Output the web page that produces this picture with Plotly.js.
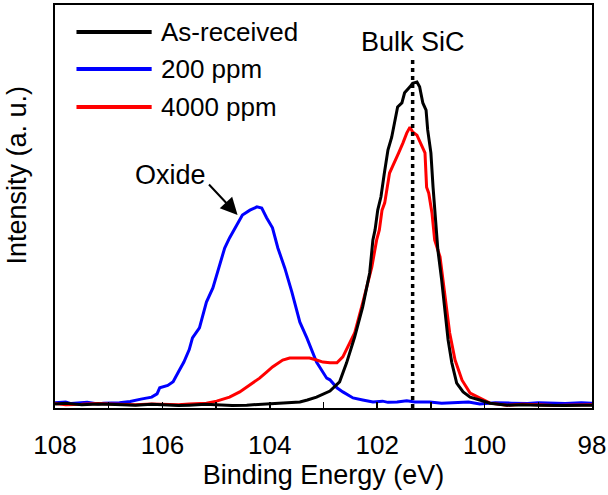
<!DOCTYPE html>
<html>
<head>
<meta charset="utf-8">
<script src="https://cdn.plot.ly/plotly-3.0.1.min.js"></script>
<style>html,body{margin:0;padding:0;background:#fff;}#chart{width:608px;height:495px;}</style>
</head>
<body>
<div id="chart"></div>
<script>
// Binding energy (eV) and intensity (arbitrary units)
const seriesNames = ["As-received", "200 ppm", "4000 ppm"];
const seriesColors = ["#000000", "#0000ff", "#ff0000"];

const asReceivedE = [108.0, 107.8, 107.5, 107.2, 107.0, 106.7, 106.5, 106.2, 106.0, 105.7, 105.5, 105.2, 105.0, 104.7, 104.43, 104.2, 104.0, 103.7, 103.44, 103.3, 103.13, 102.88, 102.70, 102.57, 102.42, 102.27, 102.14, 102.08, 102.04, 101.99, 101.93, 101.87, 101.80, 101.73, 101.67, 101.62, 101.54, 101.49, 101.39, 101.34, 101.26, 101.21, 101.15, 101.09, 101.06, 101.00, 100.96, 100.91, 100.89, 100.87, 100.80, 100.74, 100.68, 100.61, 100.52, 100.40, 100.27, 100.09, 99.90, 99.58, 99.3, 99.0, 98.7, 98.5, 98.2, 98.0];
const asReceivedI = [1.0, 1.2, 0.8, 1.0, 0.9, 0.7, 0.7, 0.9, 0.8, 0.6, 0.7, 0.9, 0.8, 0.6, 0.7, 0.9, 1.0, 1.2, 1.5, 2.0, 2.7, 4.2, 6.5, 11.2, 17.6, 25.1, 33.5, 41.7, 44.2, 49.1, 52.4, 58.0, 64.0, 67.2, 71.5, 74.7, 75.7, 78.2, 79.7, 80.6, 80.9, 79.7, 75.7, 73.9, 69.0, 63.3, 54.8, 46.7, 42.0, 39.2, 31.8, 23.6, 16.9, 11.2, 6.2, 4.0, 2.7, 2.0, 1.2, 0.7, 0.8, 0.7, 0.6, 0.6, 0.7, 0.7];

const ppm200E = [108.0, 107.8, 107.7, 107.4, 107.2, 107.1, 106.8, 106.6, 106.4, 106.2, 106.1, 106.05, 105.9, 105.8, 105.7, 105.6, 105.5, 105.44, 105.31, 105.18, 105.06, 104.93, 104.84, 104.75, 104.62, 104.51, 104.37, 104.24, 104.15, 104.06, 103.95, 103.85, 103.72, 103.59, 103.44, 103.31, 103.13, 102.94, 102.88, 102.75, 102.64, 102.45, 102.27, 102.08, 101.9, 101.8, 101.63, 101.45, 101.3, 101.02, 100.8, 100.6, 100.3, 100.09, 99.8, 99.5, 99.2, 99.0, 98.7, 98.5, 98.2, 98.0];
const ppm200I = [1.3, 1.5, 1.1, 1.4, 1.0, 1.2, 1.3, 1.6, 2.2, 2.7, 3.5, 5.0, 5.6, 6.5, 9.0, 11.4, 14.5, 17.4, 19.9, 26.3, 29.8, 35.5, 39.7, 42.2, 45.4, 47.9, 49.1, 49.9, 49.6, 47.2, 44.7, 39.7, 34.7, 28.8, 21.3, 17.4, 11.4, 7.4, 7.0, 5.0, 4.0, 2.5, 2.0, 1.5, 1.7, 1.4, 1.5, 1.8, 1.5, 1.5, 1.2, 1.3, 1.5, 1.0, 1.3, 1.2, 1.1, 1.3, 1.2, 1.1, 1.3, 1.2];

const ppm4000E = [108.0, 107.8, 107.5, 107.2, 107.0, 106.7, 106.5, 106.2, 106.0, 105.7, 105.5, 105.18, 104.99, 104.75, 104.56, 104.37, 104.19, 104.06, 103.95, 103.76, 103.63, 103.44, 103.26, 103.13, 103.01, 102.88, 102.75, 102.64, 102.51, 102.42, 102.27, 102.10, 102.01, 101.96, 101.91, 101.86, 101.77, 101.67, 101.60, 101.52, 101.45, 101.39, 101.34, 101.26, 101.17, 101.11, 101.08, 101.04, 100.98, 100.93, 100.83, 100.74, 100.65, 100.55, 100.42, 100.27, 100.09, 99.90, 99.58, 99.3, 99.0, 98.7, 98.5, 98.2, 98.0];
const ppm4000I = [1.1, 0.8, 0.9, 1.1, 1.0, 0.8, 0.8, 1.0, 0.9, 0.8, 1.0, 1.2, 1.7, 2.7, 4.0, 5.7, 7.4, 8.9, 10.2, 11.9, 12.4, 12.4, 12.4, 11.9, 11.4, 11.2, 11.2, 12.7, 16.1, 18.6, 26.1, 35.0, 41.7, 44.2, 49.1, 50.9, 58.3, 61.5, 63.3, 65.8, 68.2, 69.7, 68.5, 67.7, 65.3, 63.3, 54.8, 53.3, 48.4, 41.7, 37.5, 28.5, 18.6, 11.9, 6.9, 3.7, 2.5, 1.2, 0.7, 0.9, 0.8, 0.6, 0.7, 0.8, 0.8];

const xTickVals = [108, 107, 106, 105, 104, 103, 102, 101, 100, 99, 98];
const xTickText = ["108", "", "106", "", "104", "", "102", "", "100", "", "98"];

const bulkSiCEnergy = 101.34;
const bulkSiCLineTop = 87.1;
const oxidePeak = {E: 104.60, I: 47.9};

const FONT = "Liberation Sans, Arial, sans-serif";

const xs = [asReceivedE, ppm200E, ppm4000E];
const ys = [asReceivedI, ppm200I, ppm4000I];
const order = [1, 2, 0];
const traces = order.map(i => ({
  type: "scatter", mode: "lines", name: seriesNames[i],
  x: xs[i], y: ys[i],
  line: {color: seriesColors[i], width: 3},
  showlegend: false
}));

// manual legend (long line samples as in reference)
const legendRowsY = [0.933, 0.841, 0.747];
const shapes = [
  {type: "line", xref: "x", yref: "y", x0: bulkSiCEnergy, x1: bulkSiCEnergy, y0: 0, y1: bulkSiCLineTop,
   line: {color: "#000", width: 3.5, dash: "4px,4px"}}
];
const annotations = [];
seriesNames.forEach((n, i) => {
  shapes.push({type: "line", xref: "paper", yref: "paper", x0: 0.040, x1: 0.180, y0: legendRowsY[i], y1: legendRowsY[i],
    line: {color: seriesColors[i], width: 4}});
  annotations.push({xref: "paper", yref: "paper", x: 0.193, y: legendRowsY[i], xanchor: "left", yanchor: "middle",
    text: n, showarrow: false, font: {family: FONT, size: 26, color: "#000"}});
});
annotations.push({xref: "x", yref: "y", x: bulkSiCEnergy, y: 90.8, text: "Bulk SiC", showarrow: false,
  xanchor: "center", yanchor: "middle", font: {family: FONT, size: 27, color: "#000"}});
annotations.push({xref: "x", yref: "y", x: 105.85, y: 57.8, text: "Oxide", showarrow: false,
  xanchor: "center", yanchor: "middle", font: {family: FONT, size: 27, color: "#000"}});
annotations.push({xref: "x", yref: "y", x: oxidePeak.E, y: oxidePeak.I, text: "", showarrow: true,
  ax: -30, ay: -32, arrowhead: 2, arrowsize: 1.7, arrowwidth: 2, arrowcolor: "#000"});
annotations.push({xref: "paper", yref: "paper", x: -0.070, y: 0.578, text: "Intensity (a. u.)", showarrow: false,
  textangle: -90, xanchor: "center", yanchor: "middle", font: {family: FONT, size: 27, color: "#000"}});

const layout = {
  width: 608, height: 495,
  margin: {l: 55, r: 16, t: 5, b: 87},
  paper_bgcolor: "#fff", plot_bgcolor: "#fff",
  font: {family: FONT, color: "#000"},
  showlegend: false,
  xaxis: {
    range: [108, 98], tickmode: "array", tickvals: xTickVals, ticktext: xTickText,
    ticks: "inside", ticklen: 6, tickwidth: 1.5, tickcolor: "#000",
    showline: true, linecolor: "#000", linewidth: 2, mirror: true,
    showgrid: false, zeroline: false,
    tickfont: {family: FONT, size: 26, color: "#000"},
    ticklabelstandoff: 13,
    title: {text: "Binding Energy (eV)", font: {family: FONT, size: 27, color: "#000"}, standoff: 3}
  },
  yaxis: {
    range: [0, 100], showticklabels: false, ticks: "",
    showline: true, linecolor: "#000", linewidth: 2, mirror: true,
    showgrid: false, zeroline: false
  },
  shapes: shapes,
  annotations: annotations
};

Plotly.newPlot("chart", traces, layout, {displayModeBar: false, staticPlot: true});
</script>
</body>
</html>
